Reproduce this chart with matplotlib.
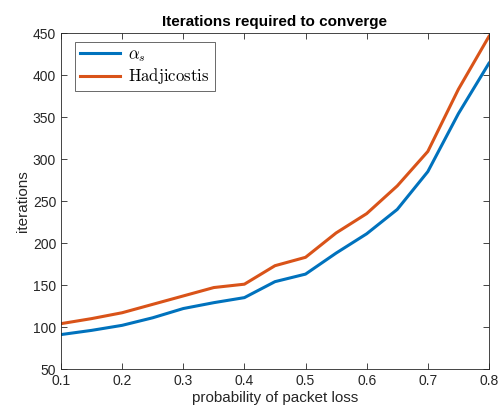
import matplotlib
matplotlib.use('Agg')
import matplotlib.pyplot as plt
import numpy as np

p_loss = [0.1, 0.15, 0.2, 0.25, 0.3, 0.35, 0.4, 0.45, 0.5, 0.55, 0.6, 0.65, 0.7, 0.75, 0.8]
iters_alpha = [91, 96, 102, 111, 122, 129, 135, 154, 163, 188, 211, 240, 285, 354, 414]
iters_hadji = [104, 110, 117, 127, 137, 147, 151, 173, 183, 212, 235, 268, 309, 383, 446]

plt.rcParams['font.family'] = ['Liberation Sans', 'DejaVu Sans']
plt.rcParams['mathtext.fontset'] = 'cm'

fig = plt.figure(figsize=(5.02, 4.13), dpi=100)
ax = fig.add_axes([0.1215, 0.1065, 0.8525, 0.8135])

ax.plot(p_loss, iters_alpha, color='#0072BD', lw=2.2, label=r'$\alpha_s$')
ax.plot(p_loss, iters_hadji, color='#D95319', lw=2.2, label=r'$\mathrm{Hadjicostis}$')

ax.set_xlim(0.1, 0.8)
ax.set_ylim(50, 450)
ax.set_xticks(np.arange(0.1, 0.81, 0.1))
ax.set_xticklabels(['0.1', '0.2', '0.3', '0.4', '0.5', '0.6', '0.7', '0.8'])
ax.set_yticks(range(50, 451, 50))
ax.tick_params(direction='in', top=True, right=True, labelsize=10, colors='#262626', length=4, width=0.6)
for s in ax.spines.values():
    s.set_linewidth(0.6)
    s.set_color('#262626')

ax.set_xlabel('probability of packet loss', fontsize=11, color='#262626', labelpad=2)
ax.set_ylabel('iterations', fontsize=11, color='#262626', labelpad=2)
ax.set_title('Iterations required to converge', fontsize=11, fontweight='bold', pad=5)

leg = ax.legend(loc='upper left', fontsize=12, fancybox=False, edgecolor='#262626',
                handlelength=2.4, borderpad=0.3, labelspacing=0.15, handletextpad=0.5,
                borderaxespad=0, bbox_to_anchor=(0.033, 0.973))
leg.get_frame().set_linewidth(0.6)

fig.savefig('out.png', dpi=100)
